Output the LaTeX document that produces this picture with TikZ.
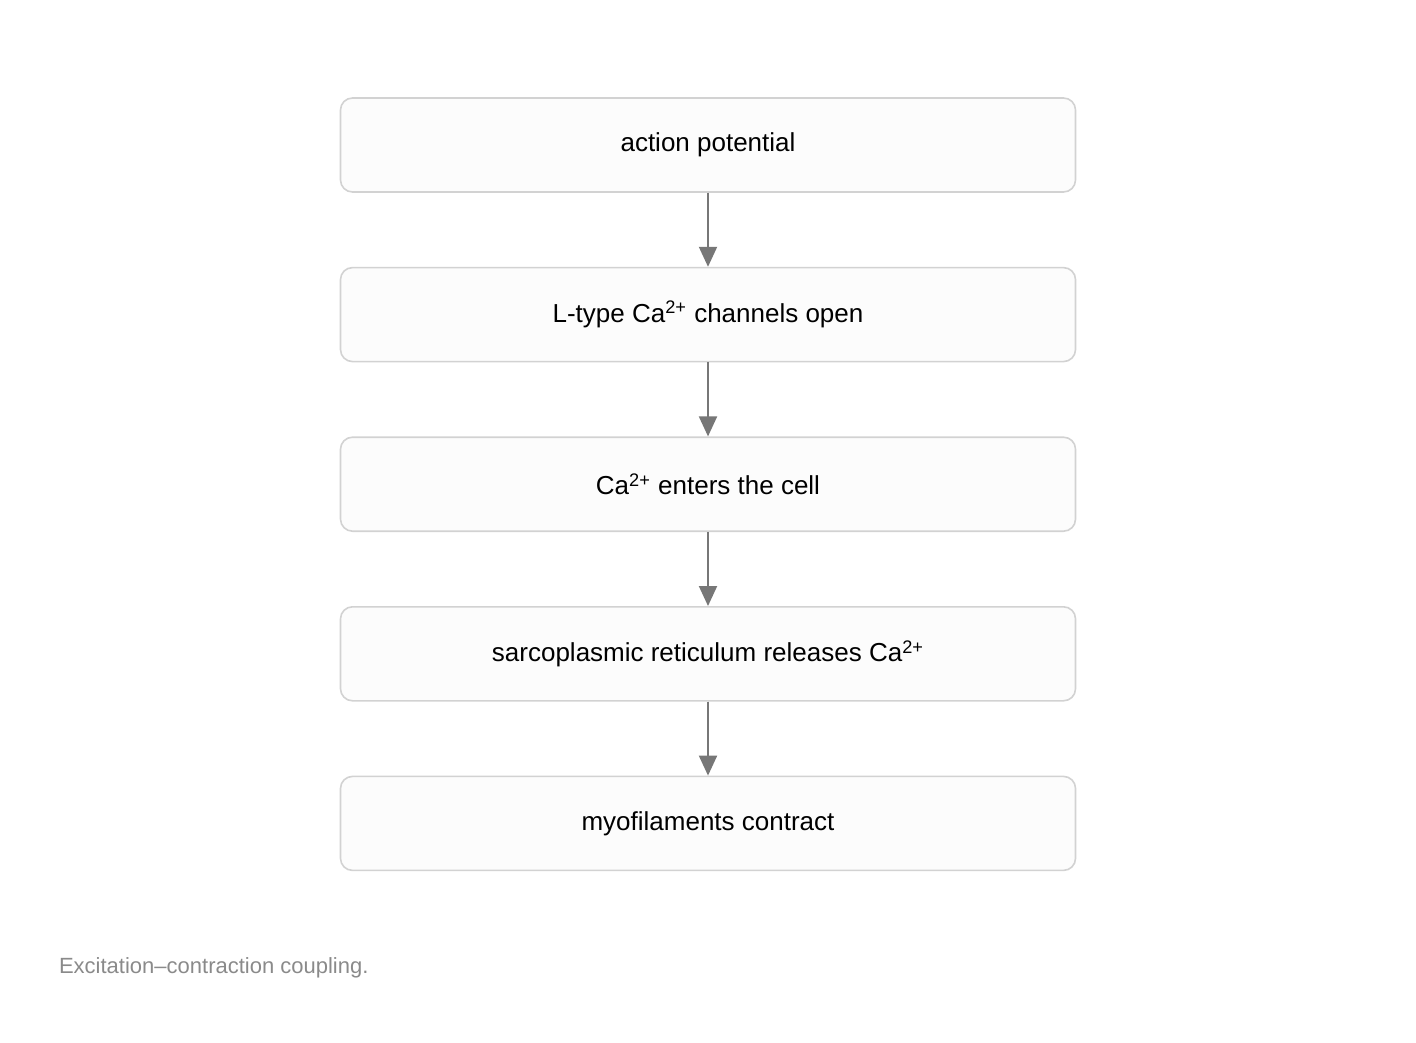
\documentclass[tikz,border=0pt]{standalone}
\usepackage{fontspec}
\setmainfont{Liberation Sans}
\usepackage{xcolor}
\usetikzlibrary{positioning, arrows.meta}
\definecolor{boxfill}{HTML}{FCFCFC}
\definecolor{boxline}{HTML}{D2D2D2}
\definecolor{arrowgray}{HTML}{777777}
\definecolor{capgray}{HTML}{8A8A8A}
\tikzset{
  stage/.style={draw=boxline, fill=boxfill, line width=0.8pt, rounded corners=6pt,
    minimum width=367.5pt, minimum height=47pt, font=\fontsize{13}{15}\selectfont},
  flow/.style={-{Triangle[length=10pt,width=9pt]}, draw=arrowgray, fill=arrowgray, line width=1pt},
}
\newcommand{\catwo}{Ca\textsuperscript{2+}}
\begin{document}
\begin{tikzpicture}[x=1pt,y=1pt,node distance=37pt]
  \useasboundingbox (0,0) rectangle (708,-521);

  \node[stage] (ap) at (354,-72.5) {action potential};
  \node[stage, below=of ap] (ltype) {L-type \catwo{} channels open};
  \node[stage, below=of ltype] (enter) {\catwo{} enters the cell};
  \node[stage, below=of enter] (sr) {sarcoplasmic reticulum releases \catwo};
  \node[stage, below=of sr] (myo) {myofilaments contract};

  \draw[flow] (ap) -- (ltype);
  \draw[flow] (ltype) -- (enter);
  \draw[flow] (enter) -- (sr);
  \draw[flow] (sr) -- (myo);

  \node[anchor=west, text=capgray, font=\fontsize{11}{13}\selectfont] (cap) at (26,-484) {Excitation–contraction coupling.};
\end{tikzpicture}
\end{document}
